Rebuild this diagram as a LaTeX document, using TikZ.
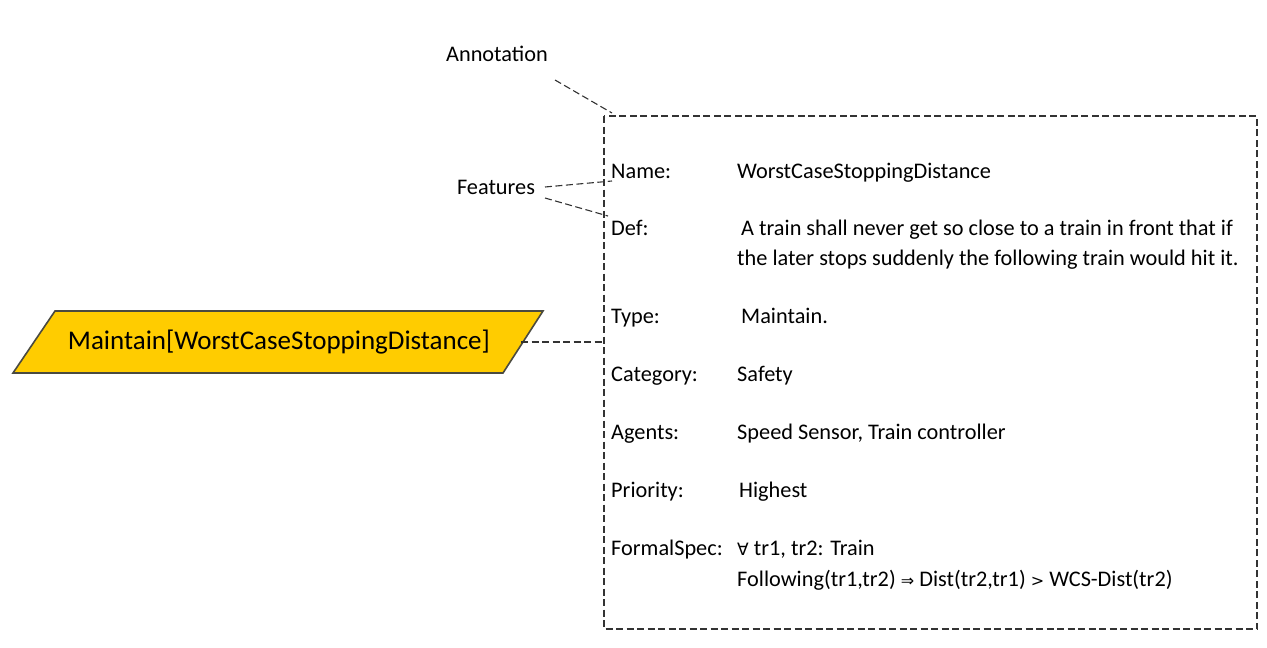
\documentclass[tikz,border=0pt]{standalone}
\usepackage{fontspec}
\setmainfont{Carlito}
\newfontfamily\symfont{DejaVu Sans}
\definecolor{goalfill}{HTML}{FFCC00}
\definecolor{goalline}{HTML}{4A4A40}
\begin{document}
\begin{tikzpicture}[x=1pt,y=-1pt,
  lbl/.style={anchor=base west,inner sep=0pt,font=\fontsize{22.3}{26}\selectfont},
  annline/.style={draw=black!80,dashed,dash pattern=on 7pt off 3.5pt,line width=1.1pt},
  goalshape/.style={fill=goalfill,draw=goalline,line width=1.6pt,line join=miter},
  goaltext/.style={inner sep=0pt,font=\fontsize{27}{31}\selectfont}]
\useasboundingbox (0,0) rectangle (1267,648);
\node[lbl,anchor=center] (ann) at (497,54) {Annotation};
\node[lbl,anchor=center] (feat) at (496,187) {Features};
\draw[annline] (604,116) rectangle (1257,629);
\coordinate (boxtl) at (612,113);
\coordinate (fa) at (612,181);
\coordinate (fb) at (608,216);
\coordinate (anns) at (555,80);
\draw[annline] (anns) -- (boxtl);
\coordinate (fs1) at (545,187);
\coordinate (fs2) at (545,198);
\draw[annline] (fs1) -- (fa);
\draw[annline] (fs2) -- (fb);
\coordinate (p1) at (55,311);
\coordinate (p2) at (543,311);
\coordinate (p3) at (503,373);
\coordinate (p4) at (13,373);
\draw[goalshape] (p1) -- (p2) -- (p3) -- (p4) -- cycle;
\node[goaltext] (g) at (279,342) {Maintain[WorstCaseStoppingDistance]};
\coordinate (ge) at (521,342);
\coordinate (boxl) at (604,342);
\draw[annline] (ge) -- (boxl);
\node[lbl] (n1) at (611,178) {Name:};
\node[lbl] (v1) at (737,178) {WorstCaseStoppingDistance};
\node[lbl] (n2) at (611,235) {Def:};
\node[lbl] (v2a) at (741,235) {A train shall never get so close to a train in front that if};
\node[lbl] (v2b) at (737,265) {the later stops suddenly the following train would hit it.};
\node[lbl] (n3) at (611,323) {Type:};
\node[lbl] (v3) at (741,323) {Maintain.};
\node[lbl] (n4) at (611,381) {Category:};
\node[lbl] (v4) at (737,381) {Safety};
\node[lbl] (n5) at (611,439) {Agents:};
\node[lbl] (v5) at (737,439) {Speed Sensor, Train controller};
\node[lbl] (n6) at (611,497) {Priority:};
\node[lbl] (v6) at (739,497) {Highest};
\node[lbl] (n7) at (611,555) {FormalSpec:};
\node[lbl] (v7a) at (737,555) {{\symfont\fontsize{17}{20}\selectfont ∀} tr1, tr2: Train};
\node[lbl] (v7b) at (737,586) {Following(tr1,tr2) {\symfont\fontsize{16}{20}\selectfont ⇒} Dist(tr2,tr1) {\symfont\fontsize{16}{20}\selectfont >} WCS-Dist(tr2)};
\end{tikzpicture}
\end{document}
